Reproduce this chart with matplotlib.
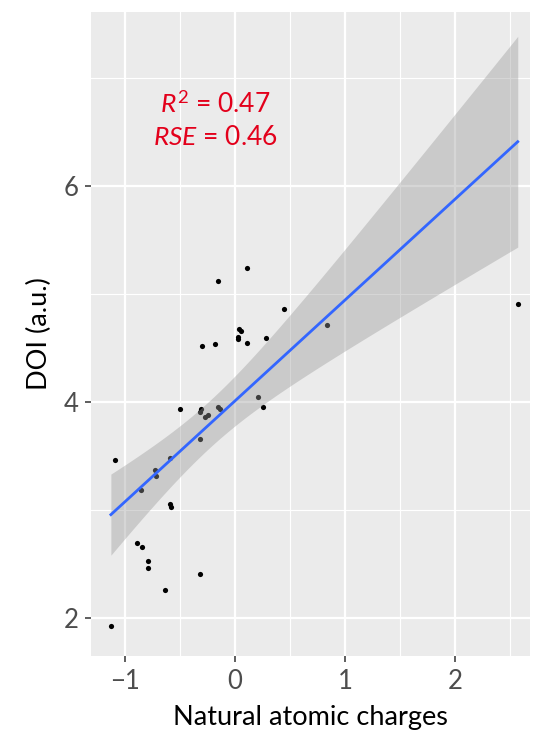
import numpy as np
import matplotlib
matplotlib.use("Agg")
import matplotlib.pyplot as plt

plt.rcParams['font.family'] = ['Lato', 'DejaVu Sans']
plt.rcParams['mathtext.fontset'] = 'custom'
plt.rcParams['mathtext.rm'] = 'Lato'
plt.rcParams['mathtext.it'] = 'Lato:italic'

# natural atomic charges vs DOI
charge = [-1.13, -1.09, -0.89, -0.85, -0.855, -0.79, -0.79, -0.73, -0.72,
          -0.64, -0.59, -0.59, -0.58, -0.50, -0.32, -0.32, -0.31, -0.32,
          -0.30, -0.27, -0.25, -0.18, -0.16, -0.155, -0.14, 0.035, 0.05,
          0.03, 0.03, 0.11, 0.11, 0.21, 0.255, 0.28, 0.445, 0.836, 2.57]
doi = [1.93, 3.46, 2.70, 2.66, 3.19, 2.53, 2.46, 3.37, 3.32,
       2.26, 3.48, 3.06, 3.03, 3.94, 2.41, 3.66, 3.94, 3.91,
       4.52, 3.86, 3.88, 4.54, 5.12, 3.95, 3.94, 4.68, 4.66,
       4.60, 4.58, 4.55, 5.24, 4.05, 3.95, 4.59, 4.86, 4.71, 4.91]
annot = ["$R^2$ = 0.47", "$RSE$ = 0.46"]

x = np.array(charge)
y = np.array(doi)
n = len(x)
b1, b0 = np.polyfit(x, y, 1)
resid = y - (b0 + b1 * x)
s = np.sqrt(np.sum(resid ** 2) / (n - 2))
xs = np.linspace(x.min(), x.max(), 80)
fit = b0 + b1 * xs
se = s * np.sqrt(1 / n + (xs - x.mean()) ** 2 / np.sum((x - x.mean()) ** 2))
t = 2.03  # t(0.975, df=35)

fig = plt.figure(figsize=(5.39, 7.40), dpi=100)
ax = fig.add_axes([0.169, 0.1135, 0.814, 0.8705])
ax.set_facecolor('#EBEBEB')
for sp in ax.spines.values():
    sp.set_visible(False)

ax.set_xlim(-1.31, 2.68)
ax.set_ylim(1.65, 7.61)
ax.set_xticks([-1, 0, 1, 2])
ax.set_xticklabels(['\u22121', '0', '1', '2'])
ax.set_yticks([2, 4, 6])
ax.set_xticks([-0.5, 0.5, 1.5, 2.5], minor=True)
ax.set_yticks([3, 5, 7], minor=True)
ax.grid(True, which='major', color='white', lw=1.6)
ax.grid(True, which='minor', color='white', lw=0.8)
ax.set_axisbelow(True)
ax.tick_params(which='major', length=4, width=1.1, color='#333333',
               labelsize=18.5, labelcolor='#4D4D4D', pad=5)
ax.tick_params(which='minor', length=0)

ax.scatter(x, y, s=14, color='black', zorder=2, linewidths=0)
ax.fill_between(xs, fit - t * se, fit + t * se, color='#999999', alpha=0.4,
                lw=0, zorder=3)
ax.plot(xs, fit, color='#3366FF', lw=2, zorder=4)

ax.text(-0.18, 6.75, annot[0], color='#E3001B', fontsize=19, ha='center',
        va='center', zorder=5)
ax.text(-0.18, 6.45, annot[1], color='#E3001B', fontsize=19, ha='center',
        va='center', zorder=5)

ax.set_xlabel('Natural atomic charges', fontsize=19.5, labelpad=8)
ax.set_ylabel('DOI (a.u.)', fontsize=19.5, labelpad=8)

fig.savefig('out.png', dpi=100)
